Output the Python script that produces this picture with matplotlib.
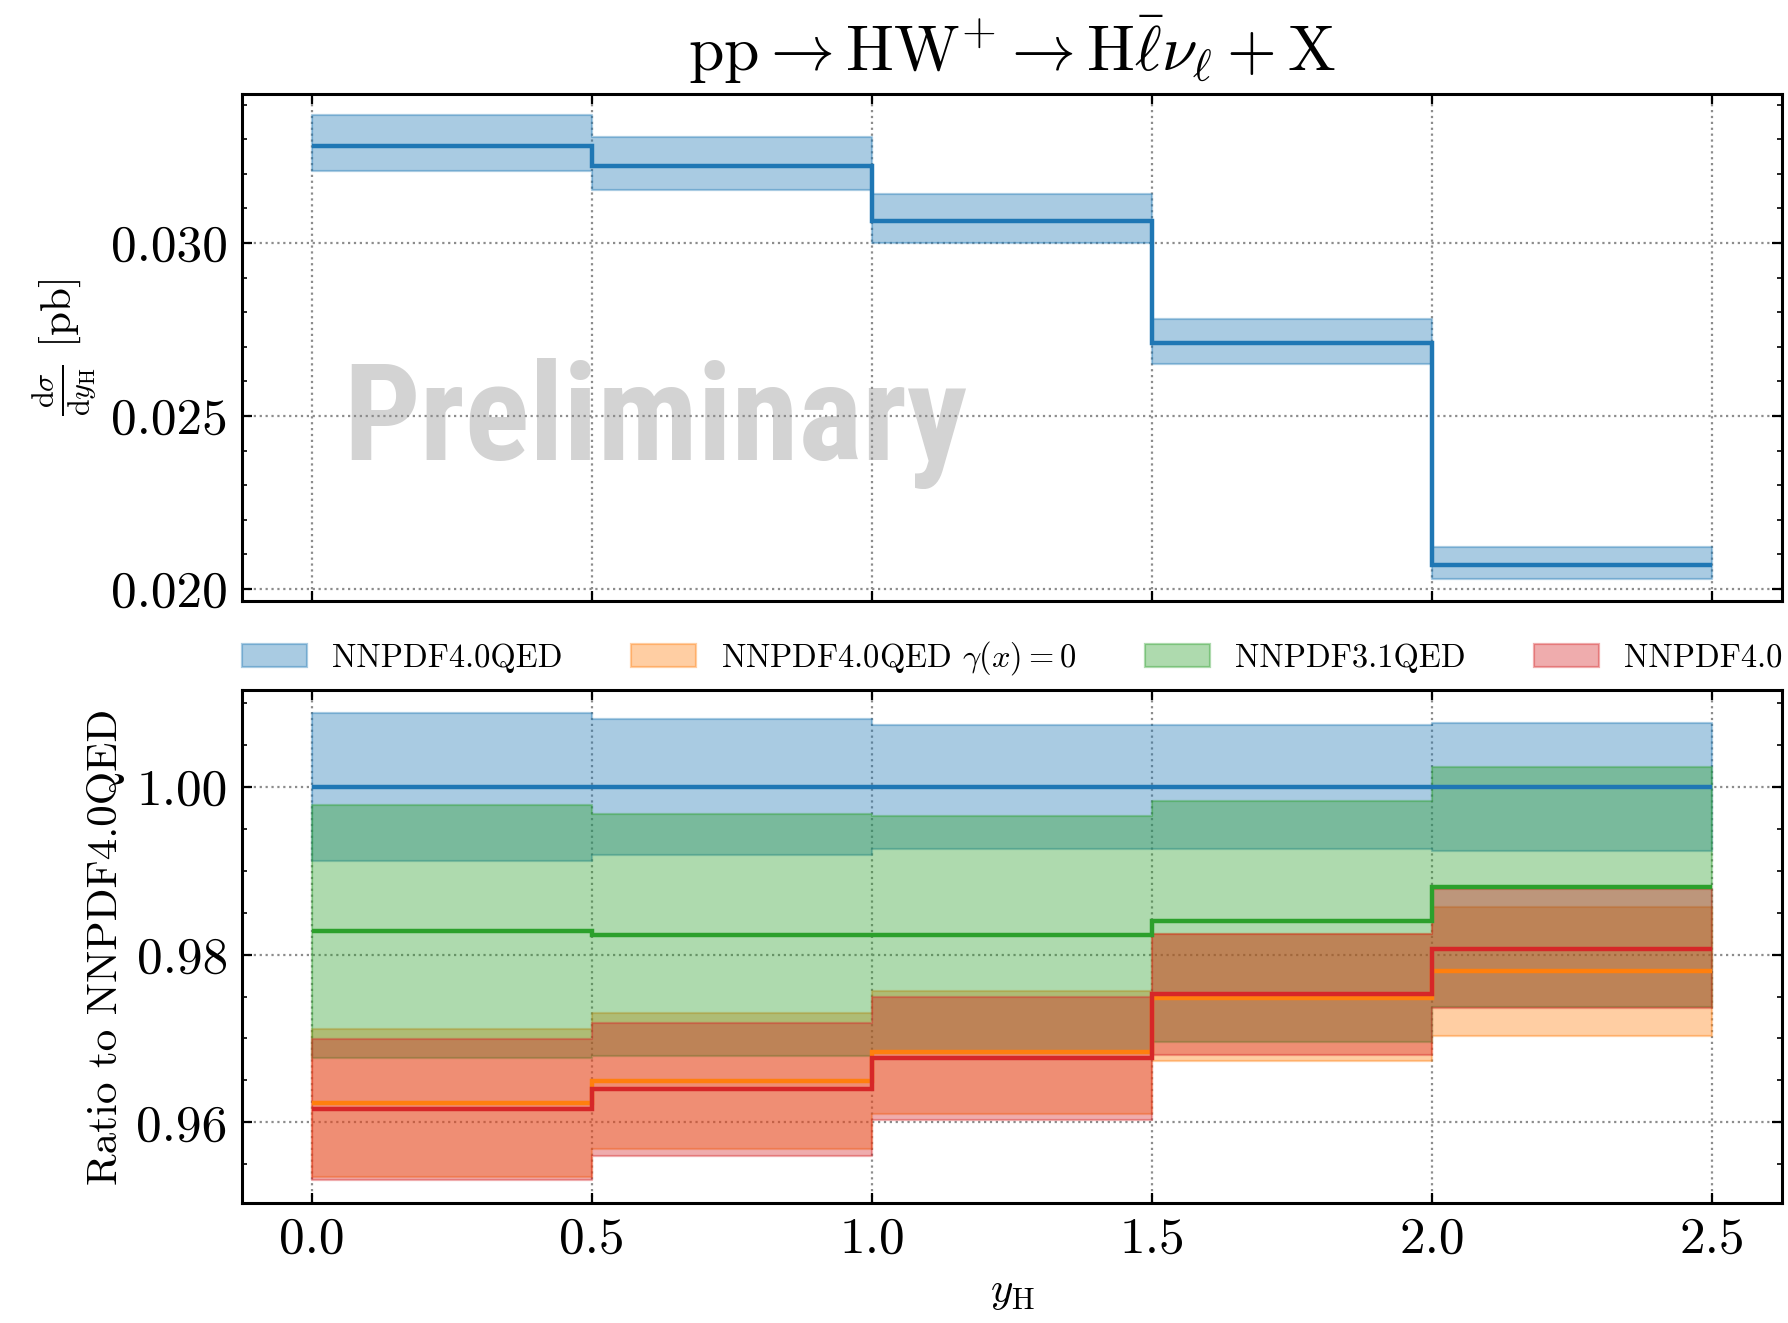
import matplotlib
matplotlib.use("Agg")
import matplotlib.pyplot as plt
from matplotlib import font_manager
from matplotlib.font_manager import FontProperties
from matplotlib.patches import Patch
from matplotlib.ticker import MultipleLocator, FormatStrFormatter
import numpy as np

# ---- data -------------------------------------------------------------
bin_edges = [0.0, 0.5, 1.0, 1.5, 2.0, 2.5]

# absolute cross section dsigma/dy_H [pb] (NNPDF4.0QED)
xsec_central = [0.03280, 0.03222, 0.03063, 0.02711, 0.02069]
xsec_upper = [0.03369, 0.03307, 0.03143, 0.02781, 0.02121]
xsec_lower = [0.03208, 0.03153, 0.02999, 0.02651, 0.02028]

# ratios to NNPDF4.0QED: central value and half-width of the band
labels = ["NNPDF4.0QED", r"NNPDF4.0QED $\gamma(x) = 0$", "NNPDF3.1QED", "NNPDF4.0"]
colors = ["tab:blue", "tab:orange", "tab:green", "tab:red"]

qed_central = [1.0, 1.0, 1.0, 1.0, 1.0]
qed_err = [0.00888, 0.00810, 0.00740, 0.00740, 0.00765]

nophoton_central = [0.96230, 0.96497, 0.96835, 0.97488, 0.97801]
nophoton_err = [0.00884, 0.00810, 0.00732, 0.00756, 0.00773]

nnpdf31_central = [0.98277, 0.98236, 0.98236, 0.98397, 0.98808]
nnpdf31_err = [0.01509, 0.01443, 0.01414, 0.01439, 0.01430]

nnpdf40_central = [0.96156, 0.96395, 0.96765, 0.97525, 0.98072]
nnpdf40_err = [0.00839, 0.00793, 0.00732, 0.00720, 0.00707]

ratio_central = [qed_central, nophoton_central, nnpdf31_central, nnpdf40_central]
ratio_err = [qed_err, nophoton_err, nnpdf31_err, nnpdf40_err]

# ---- style ------------------------------------------------------------
plt.rcParams.update({
    "font.family": "serif",
    "font.serif": ["cmr10"],
    "mathtext.fontset": "cm",
    "axes.formatter.use_mathtext": True,
    "axes.linewidth": 1.1,
    "xtick.direction": "in",
    "ytick.direction": "in",
    "xtick.top": True,
    "ytick.right": True,
    "xtick.major.size": 3.5,
    "ytick.major.size": 3.5,
    "ytick.minor.size": 1.8,
    "xtick.major.width": 0.8,
    "ytick.major.width": 0.8,
    "ytick.minor.width": 0.6,
    "xtick.major.pad": 5,
    "ytick.major.pad": 5,
    "xtick.labelsize": 18.5,
    "ytick.labelsize": 18.5,
})

DPI = 200
fig = plt.figure(figsize=(1788 / DPI, 1323 / DPI), dpi=DPI)
ax_top = fig.add_axes([0.1352, 0.5457, 0.8616, 0.3836])
ax_bot = fig.add_axes([0.1352, 0.0905, 0.8616, 0.3879], sharex=ax_top)

edges = np.asarray(bin_edges)


def ext(vals):
    """Repeat the last bin value so a post-step fill spans the last bin."""
    v = np.asarray(vals, dtype=float)
    return np.append(v, v[-1])


def style_axis(ax, minor_step):
    ax.grid(True, which="major", linestyle=":", color="0.55", linewidth=0.8)
    ax.yaxis.set_minor_locator(MultipleLocator(minor_step))
    ax.tick_params(which="both", direction="in", top=True, right=True)
    for sp in ax.spines.values():
        sp.set_linewidth(1.1)


# ---- upper panel: absolute distribution --------------------------------
ax_top.fill_between(edges, ext(xsec_lower), ext(xsec_upper), step="post",
                    color="tab:blue", alpha=0.38, linewidth=0.8, zorder=2)
ax_top.stairs(xsec_central, edges, baseline=None, color="tab:blue",
              linewidth=1.6, zorder=3)
ax_top.set_xlim(-0.125, 2.625)
ax_top.set_ylim(0.01965, 0.03432)
ax_top.yaxis.set_major_locator(MultipleLocator(0.005))
ax_top.yaxis.set_major_formatter(FormatStrFormatter("%.3f"))
style_axis(ax_top, 0.001)
ax_top.tick_params(labelbottom=False)
ax_top.set_ylabel(r"$\frac{\mathrm{d}\sigma}{\mathrm{d}y_\mathrm{H}}$ [pb]", fontsize=15.5)
ax_top.set_title(r"$\mathrm{pp} \rightarrow \mathrm{HW}^{+} \rightarrow "
                 r"\mathrm{H}\bar{\ell}\nu_{\ell} + \mathrm{X}$",
                 fontsize=23, pad=8)

# "Preliminary" watermark: a narrow bold sans face
available = {f.name for f in font_manager.fontManager.ttflist}
wm_family = "DejaVu Sans"
for fam in ["Roboto Condensed", "Liberation Sans Narrow", "Roboto", "Liberation Sans"]:
    if fam in available:
        wm_family = fam
        break
wm_prop = FontProperties(family=wm_family, weight="bold")

wm = ax_top.text(0.613, 0.02373, "Preliminary", ha="center", va="baseline",
                 color="#d3d3d3", fontproperties=wm_prop, fontsize=100, zorder=0.1)
fig.canvas.draw()
bb = wm.get_window_extent(renderer=fig.canvas.get_renderer())
size_w = 100 * 625.0 / bb.width
wm.set_fontsize(min(size_w, 64))

# ---- lower panel: ratios ----------------------------------------------
for cen, err, col in zip(ratio_central, ratio_err, colors):
    c = np.asarray(cen)
    e = np.asarray(err)
    ax_bot.fill_between(edges, ext(c - e), ext(c + e), step="post",
                        color=col, alpha=0.38, linewidth=0.8, zorder=2)
for cen, col in zip(ratio_central, colors):
    ax_bot.stairs(cen, edges, baseline=None, color=col, linewidth=1.6, zorder=3)

ax_bot.set_ylim(0.95034, 1.01156)
ax_bot.yaxis.set_major_locator(MultipleLocator(0.02))
ax_bot.yaxis.set_major_formatter(FormatStrFormatter("%.2f"))
ax_bot.xaxis.set_major_locator(MultipleLocator(0.5))
ax_bot.xaxis.set_major_formatter(FormatStrFormatter("%.1f"))
style_axis(ax_bot, 0.005)
ax_bot.set_ylabel("Ratio to NNPDF4.0QED", fontsize=15.5)
ax_bot.set_xlabel(r"$y_\mathrm{H}$", fontsize=15.5)

handles = [Patch(facecolor=col, edgecolor=col, alpha=0.38, linewidth=0.8) for col in colors]
fig.legend(handles, labels, loc="center", ncol=4, mode="expand",
           bbox_to_anchor=(0.1352, 0.4926, 0.8616, 0.02),
           bbox_transform=fig.transFigure, frameon=False, fontsize=11.7,
           borderpad=0, borderaxespad=0, handlelength=2.0, handleheight=0.7,
           handletextpad=0.77)

fig.savefig("out.png", dpi=DPI)
